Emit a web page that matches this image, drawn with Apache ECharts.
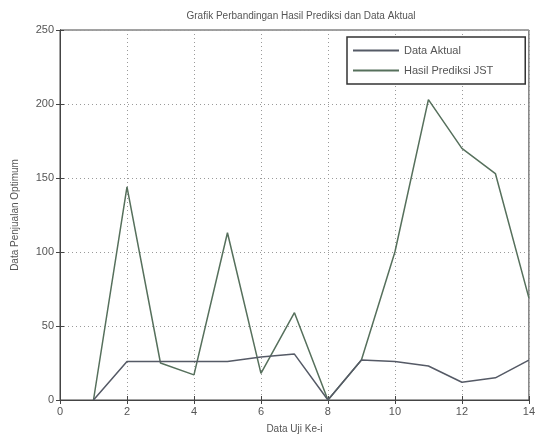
<!DOCTYPE html>
<html>
<head>
<meta charset="utf-8">
<script src="https://cdn.jsdelivr.net/npm/echarts@6/dist/echarts.min.js"></script>
<style>
  html, body { margin: 0; padding: 0; background: #fff; }
  #main { width: 538px; height: 439px; }
</style>
</head>
<body>
<div id="main"></div>
<script>
// data uji ke-i (1..14)
var dataUji = [1, 2, 3, 4, 5, 6, 7, 8, 9, 10, 11, 12, 13, 14];
var dataAktual = [0, 26, 26, 26, 26, 29, 31, 0, 27, 26, 23, 12, 15, 27];
var prediksiJST = [0, 144, 25, 17, 113, 18, 59, 0, 27, 100, 203, 170, 153, 69];
var xTicks = [0, 2, 4, 6, 8, 10, 12, 14];
var yTicks = [0, 50, 100, 150, 200, 250];

function pairs(ys) {
    return dataUji.map(function (x, i) { return [x, ys[i]]; });
}

var myChart = echarts.init(document.getElementById('main'));

var fontFam = '"Liberation Sans", Arial, sans-serif';
var txtColor = '#555';
var gridLine = { show: true, lineStyle: { color: '#9a9a9a', type: [1, 3], width: 1 } };

var option = {
    backgroundColor: '#fff',
    animation: false,
    title: {
        text: 'Grafik Perbandingan Hasil Prediksi dan Data Aktual',
        left: 296,
        textAlign: 'center',
        top: 6,
        textStyle: { fontFamily: fontFam, fontSize: 10, fontWeight: 'normal', color: txtColor }
    },
    legend: {
        orient: 'vertical',
        left: 347,
        top: 37,
        padding: [8, 32, 8, 6],
        itemGap: 9,
        itemWidth: 46,
        itemHeight: 2,
        icon: 'rect',
        borderColor: '#333',
        borderWidth: 1.5,
        backgroundColor: '#fff',
        textStyle: { fontFamily: fontFam, fontSize: 11, color: txtColor },
        data: ['Data Aktual', 'Hasil Prediksi JST']
    },
    grid: { left: 60, right: 7, top: 30, bottom: 37, show: true, borderColor: '#444', borderWidth: 1 },
    xAxis: [{
        type: 'value',
        min: 0, max: 14, interval: 2,
        name: 'Data Uji Ke-i',
        nameLocation: 'middle',
        nameGap: 24,
        nameTextStyle: { fontFamily: fontFam, fontSize: 10, color: txtColor },
        axisLine: { show: true, onZero: false, lineStyle: { color: '#444' } },
        axisTick: { inside: true, length: 4, lineStyle: { color: '#444' } },
        axisLabel: { fontFamily: fontFam, fontSize: 11, color: txtColor, margin: 6,
            formatter: function (v) { return xTicks.indexOf(v) >= 0 ? String(v) : ''; } },
        splitLine: gridLine
    }, {
        type: 'value', position: 'top',
        min: 0, max: 14, interval: 2,
        axisLine: { show: true, lineStyle: { color: '#444' } },
        axisTick: { inside: true, length: 4, lineStyle: { color: '#444' } },
        axisLabel: { show: false },
        splitLine: { show: false }
    }],
    yAxis: [{
        type: 'value',
        min: 0, max: 250, interval: 50,
        name: 'Data Penjualan Optimum',
        nameLocation: 'middle',
        nameGap: 40,
        nameTextStyle: { fontFamily: fontFam, fontSize: 10, color: txtColor },
        axisLine: { show: true, lineStyle: { color: '#444' } },
        axisTick: { show: true, inside: true, length: 4, lineStyle: { color: '#444' } },
        axisLabel: { fontFamily: fontFam, fontSize: 11, color: txtColor, margin: 6,
            formatter: function (v) { return yTicks.indexOf(v) >= 0 ? String(v) : ''; } },
        splitLine: gridLine
    }, {
        type: 'value', position: 'right',
        min: 0, max: 250, interval: 50,
        axisLine: { show: true, lineStyle: { color: '#444' } },
        axisTick: { show: true, inside: true, length: 4, lineStyle: { color: '#444' } },
        axisLabel: { show: false },
        splitLine: { show: false }
    }],
    series: [
        {
            name: 'Data Aktual',
            type: 'line',
            symbol: 'none',
            data: pairs(dataAktual),
            color: '#555a66',
            lineStyle: { color: '#555a66', width: 1.5 },
            z: 3
        },
        {
            name: 'Hasil Prediksi JST',
            type: 'line',
            symbol: 'none',
            data: pairs(prediksiJST),
            color: '#56705c',
            lineStyle: { color: '#56705c', width: 1.5 },
            z: 2
        }
    ]
};

myChart.setOption(option);
</script>
</body>
</html>
